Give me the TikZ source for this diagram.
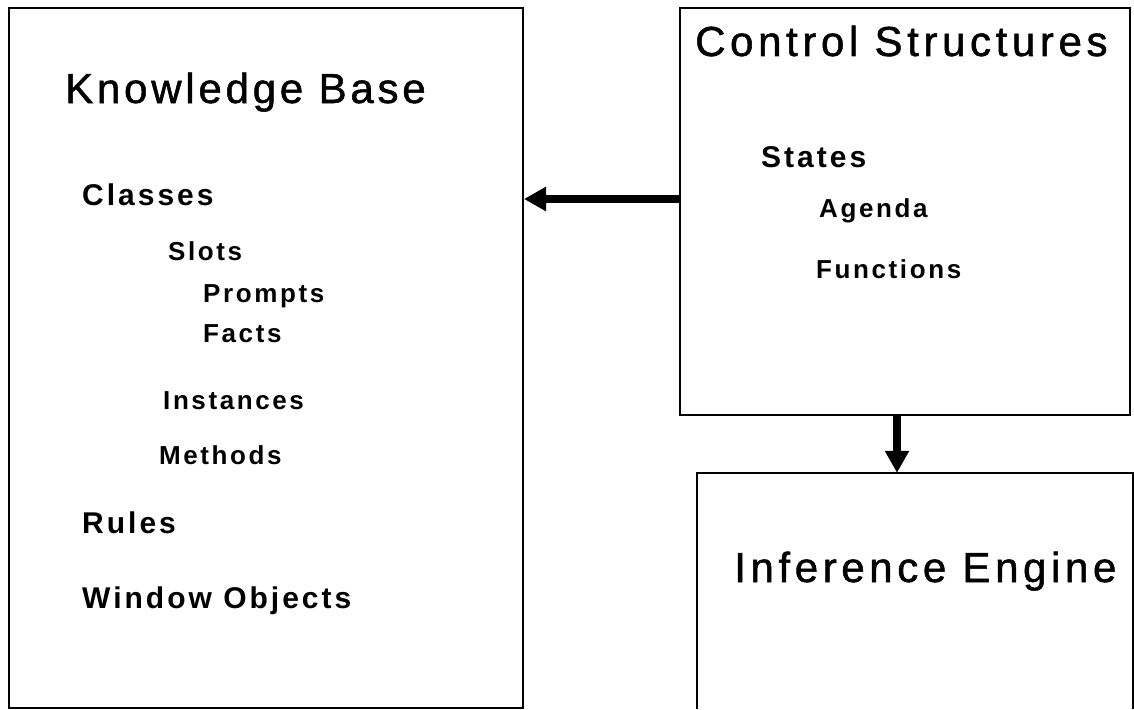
\documentclass[tikz,border=0pt]{standalone}
\usepackage{fontspec}
\setmainfont{Liberation Sans}
\usetikzlibrary{arrows.meta}

\tikzset{
  panel/.style={draw, line width=2pt, rectangle, inner sep=0pt},
  title/.style={anchor=base west, inner sep=0pt,
    font={\fontsize{42}{46}\selectfont\addfontfeature{LetterSpace=9,FakeBold=1.2}}},
  widetitle/.style={title,
    font={\fontsize{42}{46}\selectfont\addfontfeature{LetterSpace=11,FakeBold=1.2}}},
  itemL/.style={anchor=base west, inner sep=0pt,
    font={\fontsize{30}{34}\bfseries\selectfont\addfontfeature{LetterSpace=10}}},
  itemS/.style={anchor=base west, inner sep=0pt,
    font={\fontsize{26}{30}\bfseries\selectfont\addfontfeature{LetterSpace=10}}},
  flow/.style={line width=8pt, -{Triangle[length=22pt,width=23pt]}},
}

\begin{document}
\begin{tikzpicture}[x=1pt,y=-1pt]
  \useasboundingbox (0,0) rectangle (1134,709);

  % main panels
  \node[panel, minimum width=514pt, minimum height=700pt] (kb) at (266,358) {};
  \node[panel, minimum width=450pt, minimum height=407pt] (cs) at (905,211.5) {};
  % inference engine panel runs off the bottom edge: three sides only
  \node[inner sep=0pt, minimum width=436pt, minimum height=236pt] (ie) at (915,591) {};
  \draw[line width=2pt] (ie.south west) -- (ie.north west) -- (ie.north east) -- (ie.south east);

  % knowledge base contents
  \node[title] (kbt) at (65,103) {Knowledge Base};
  \node[itemL] (classes) at (82,205) {Classes};
  \node[itemS] (slots) at (168,260) {Slots};
  \node[itemS] (prompts) at (203,302) {Prompts};
  \node[itemS] (facts) at (203,342) {Facts};
  \node[itemS] (inst) at (163,409) {Instances};
  \node[itemS] (meth) at (159,464) {Methods};
  \node[itemL] (rules) at (82,533) {Rules};
  \node[itemL] (win) at (82,608) {Window Objects};

  % control structures contents
  \node[widetitle] (cst) at (695,56) {Control Structures};
  \node[itemL] (states) at (761,167) {States};
  \node[itemS] (agenda) at (819,217) {Agenda};
  \node[itemS] (func) at (816,278) {Functions};

  % inference engine title
  \node[widetitle] (iet) at (734,582) {Inference Engine};

  % connectors
  \coordinate (h) at (0,199);
  \coordinate (v) at (897,0);
  \draw[flow] (cs.west |- h) -- (kb.east |- h);
  \draw[flow] (cs.south -| v) -- (ie.north -| v);
\end{tikzpicture}
\end{document}
